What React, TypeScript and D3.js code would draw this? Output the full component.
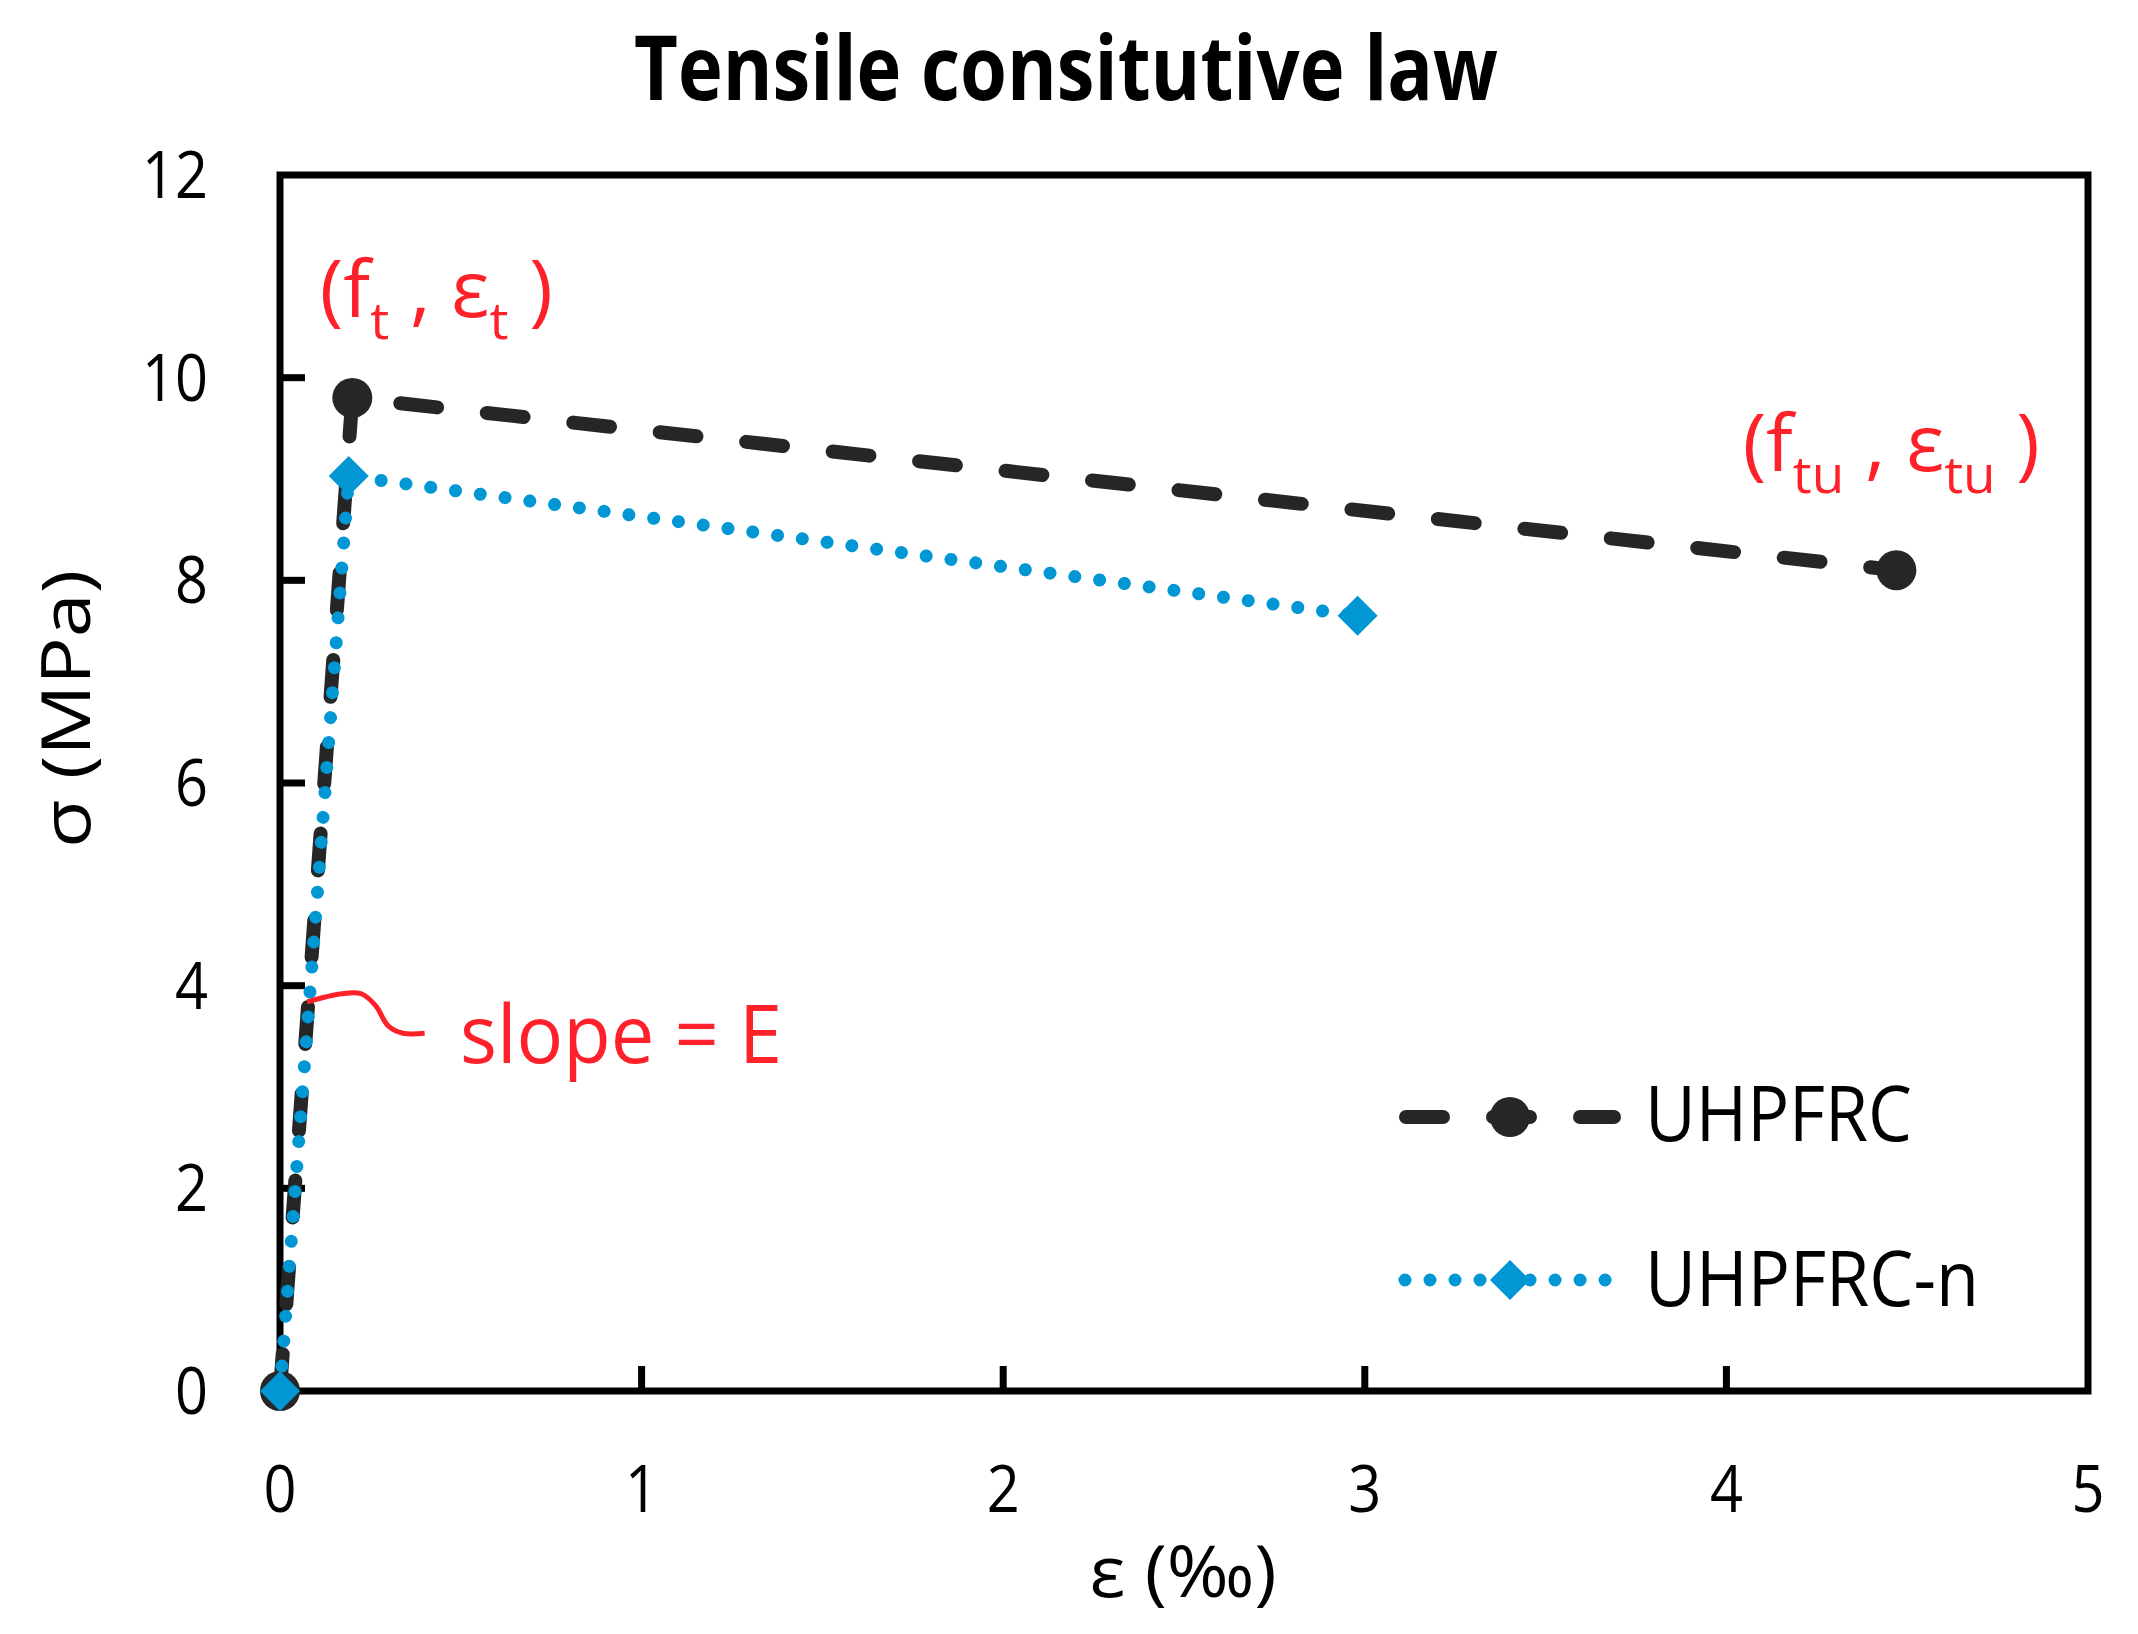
import * as d3 from "d3";
import React, { useLayoutEffect, useRef, useState } from "react";

// strain in ‰, stress in MPa
const strainUHPFRC = [0, 0.2, 4.47];
const stressUHPFRC = [0, 9.8, 8.1];
const strainUHPFRCn = [0, 0.19, 2.98];
const stressUHPFRCn = [0, 9.03, 7.65];
const xTicks = [0, 1, 2, 3, 4, 5];
const yTicks = [0, 2, 4, 6, 8, 10, 12];
const seriesNames = ["UHPFRC", "UHPFRC-n"];

// red bracket pointing at the elastic branch (data units)
const slopeBracketX = [0.075, 0.17, 0.225, 0.265, 0.3, 0.34, 0.4];
const slopeBracketY = [3.84, 3.92, 3.92, 3.8, 3.6, 3.53, 3.53];

const W = 2138;
const H = 1634;
const FONT = "'Open Sans', 'DejaVu Sans', sans-serif";
const BLACK = "#262626";
const BLUE = "#0097d4";
const RED = "#ff2129";

// text squeezed horizontally to a target ink width
function FitText(props: any) {
  const { x, y, width, anchor = "start", rotate = 0, size, weight = 400, fill = "#000", children } = props;
  const ref = useRef<SVGTextElement>(null);
  const [k, setK] = useState(1);
  useLayoutEffect(() => {
    const measure = () => {
      if (!ref.current) return;
      const w = ref.current.getBBox().width;
      if (w > 0) setK(width / w);
    };
    measure();
    (document as any).fonts?.ready.then(measure);
  }, [width]);
  return (
    <g transform={`translate(${x},${y}) rotate(${rotate}) scale(${k},1)`}>
      <text ref={ref} textAnchor={anchor} fontFamily={FONT} fontSize={size} fontWeight={weight} fill={fill}>
        {children}
      </text>
    </g>
  );
}

export default function App() {
  const x = d3.scaleLinear().domain([0, 5]).range([280, 2088]);
  const y = d3.scaleLinear().domain([0, 12]).range([1391, 175]);

  const path = (xs: number[], ys: number[]) =>
    d3
      .line<number>()
      .x((_, i) => x(xs[i]))
      .y((_, i) => y(ys[i]))(xs as any) as string;

  const bracket = d3
    .line<number>()
    .x((_, i) => x(slopeBracketX[i]))
    .y((_, i) => y(slopeBracketY[i]))
    .curve(d3.curveCatmullRom)(slopeBracketX as any) as string;

  const diamond = (cx: number, cy: number, r: number) => {
    const p = d3.path();
    p.moveTo(cx, cy - r);
    p.lineTo(cx + r, cy);
    p.lineTo(cx, cy + r);
    p.lineTo(cx - r, cy);
    p.closePath();
    return p.toString();
  };

  const dash = { strokeWidth: 14, strokeDasharray: "37 50", strokeLinecap: "round" as const };
  const dot = { strokeWidth: 13, strokeDasharray: "0.01 25", strokeLinecap: "round" as const };

  return (
    <svg width={W} height={H} style={{ position: "absolute", left: 0, top: 0, background: "#fff" }}>
      <rect width={W} height={H} fill="#fff" />

      <FitText x={1066} y={100} width={864} anchor="middle" size={90} weight={700}>
        Tensile consitutive law
      </FitText>

      {/* ticks, inward */}
      {xTicks.slice(1, -1).map((t) => (
        <line key={"xt" + t} x1={x(t)} x2={x(t)} y1={y(0)} y2={y(0) - 25} stroke="#000" strokeWidth={7} />
      ))}
      {yTicks.slice(1, -1).map((t) => (
        <line key={"yt" + t} x1={x(0)} x2={x(0) + 25} y1={y(t)} y2={y(t)} stroke="#000" strokeWidth={7} />
      ))}
      <rect x={x(0)} y={y(12)} width={x(5) - x(0)} height={y(0) - y(12)} fill="none" stroke="#000" strokeWidth={7} />

      {xTicks.map((t) => (
        <FitText key={"xl" + t} x={x(t)} y={1512} width={33 * String(t).length} anchor="middle" size={66}>
          {String(t)}
        </FitText>
      ))}
      {yTicks.map((t) => (
        <FitText key={"yl" + t} x={208} y={y(t) + 23} width={33 * String(t).length} anchor="end" size={66}>
          {String(t)}
        </FitText>
      ))}

      <FitText x={1183} y={1597} width={187} anchor="middle" size={72}>
        ε (‰)
      </FitText>
      <FitText x={90} y={709} width={278} anchor="middle" rotate={-90} size={68}>
        σ (MPa)
      </FitText>

      {/* UHPFRC */}
      <path d={path(strainUHPFRC, stressUHPFRC)} fill="none" stroke={BLACK} {...dash} />
      {strainUHPFRC.map((s, i) => (
        <circle key={"c" + i} cx={x(s)} cy={y(stressUHPFRC[i])} r={20} fill={BLACK} />
      ))}
      {/* UHPFRC-n */}
      <path d={path(strainUHPFRCn, stressUHPFRCn)} fill="none" stroke={BLUE} {...dot} />
      {strainUHPFRCn.map((s, i) => (
        <path key={"d" + i} d={diamond(x(s), y(stressUHPFRCn[i]), 20)} fill={BLUE} />
      ))}

      {/* annotations */}
      <FitText x={x(0.11)} y={y(10.6)} width={233} size={78} fill={RED}>
        (f<tspan fontSize={52} dy={22}>t</tspan>
        <tspan dy={-22}> , ε</tspan>
        <tspan fontSize={52} dy={22}>t</tspan>
        <tspan dy={-22}> )</tspan>
      </FitText>
      <FitText x={x(4.045)} y={y(9.08)} width={297} size={78} fill={RED}>
        (f<tspan fontSize={52} dy={22}>tu</tspan>
        <tspan dy={-22}> , ε</tspan>
        <tspan fontSize={52} dy={22}>tu</tspan>
        <tspan dy={-22}> )</tspan>
      </FitText>
      <path d={bracket} fill="none" stroke={RED} strokeWidth={5} />
      <FitText x={460} y={1063} width={322} size={80} fill={RED}>
        slope = E
      </FitText>

      {/* legend */}
      <line x1={1406} x2={1614} y1={1117} y2={1117} stroke={BLACK} {...dash} />
      <circle cx={1510} cy={1117} r={20} fill={BLACK} />
      <FitText x={1645} y={1141} width={267} size={76}>
        {seriesNames[0]}
      </FitText>
      <line x1={1405} x2={1606.5} y1={1280} y2={1280} stroke={BLUE} {...dot} />
      <path d={diamond(1510, 1280, 20)} fill={BLUE} />
      <FitText x={1645} y={1306} width={334} size={76}>
        {seriesNames[1]}
      </FitText>
    </svg>
  );
}
